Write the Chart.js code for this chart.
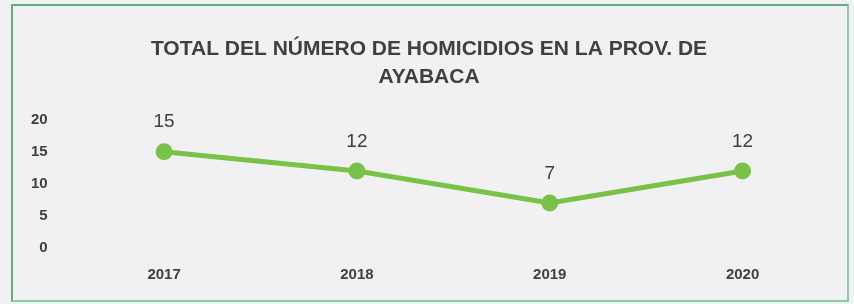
<!DOCTYPE html>
<html>
<head>
<meta charset="utf-8">
<script src="https://cdn.jsdelivr.net/npm/chart.js@4"></script>
<style>
    html, body { margin: 0; padding: 0; background: #f1f0f3; }
    #frame {
        position: absolute; left: 11px; top: 4px; width: 834px; height: 294px;
        border: 2px solid #5fae7e; border-right-color: #8fcaa5; border-bottom-color: #8fcaa5;
    }
    #wrap { position: absolute; left: 0; top: 0; width: 854px; height: 304px; }
</style>
</head>
<body>
<div id="frame"></div>
<div id="wrap"><canvas id="chart"></canvas></div>
<script>
// --- Data ---
const years = ['2017', '2018', '2019', '2020'];
const homicides = [15, 12, 7, 12];
const yTicks = [0, 5, 10, 15, 20];

const FONT = "'Liberation Sans Narrow', 'Arial Narrow', 'Liberation Sans', Arial, sans-serif";

// Draws the value above each point (no datalabels plugin available)
const valueLabels = {
    id: 'valueLabels',
    afterDatasetsDraw(chart) {
        const ctx = chart.ctx;
        const meta = chart.getDatasetMeta(0);
        ctx.save();
        ctx.font = '19px ' + FONT;
        ctx.fillStyle = '#404040';
        ctx.textAlign = 'center';
        ctx.textBaseline = 'bottom';
        meta.data.forEach((pt, i) => {
            ctx.fillText(homicides[i], pt.x, pt.y - 20);
        });
        ctx.restore();
    }
};

new Chart(document.getElementById('chart'), {
    type: 'line',
    data: {
        labels: years,
        datasets: [{
            data: homicides,
            borderColor: '#79c247',
            backgroundColor: '#79c247',
            borderWidth: 5,
            pointRadius: 6,
            pointHoverRadius: 6,
            tension: 0
        }]
    },
    options: {
        responsive: true,
        maintainAspectRatio: false,
        animation: false,
        layout: { padding: { left: 19, right: 15, top: 36, bottom: 10 } },
        plugins: {
            legend: { display: false },
            tooltip: { enabled: false },
            title: {
                display: true,
                text: ['TOTAL DEL NÚMERO DE HOMICIDIOS EN LA PROV. DE', 'AYABACA'],
                color: '#404040',
                font: { family: FONT, size: 21, weight: 'bold', lineHeight: 1.3 },
                padding: { top: 0, bottom: 29 }
            }
        },
        scales: {
            x: {
                offset: true,
                grid: { display: false },
                border: { display: false },
                ticks: { color: '#404040', font: { family: FONT, size: 15, weight: 'bold' }, padding: 10 }
            },
            y: {
                min: 0,
                max: 20,
                afterBuildTicks: axis => { axis.ticks = yTicks.map(v => ({ value: v })); },
                grid: { display: false },
                border: { display: false },
                ticks: { color: '#404040', font: { family: FONT, size: 15, weight: 'bold' }, padding: 12 }
            }
        }
    },
    plugins: [valueLabels]
});
</script>
</body>
</html>
